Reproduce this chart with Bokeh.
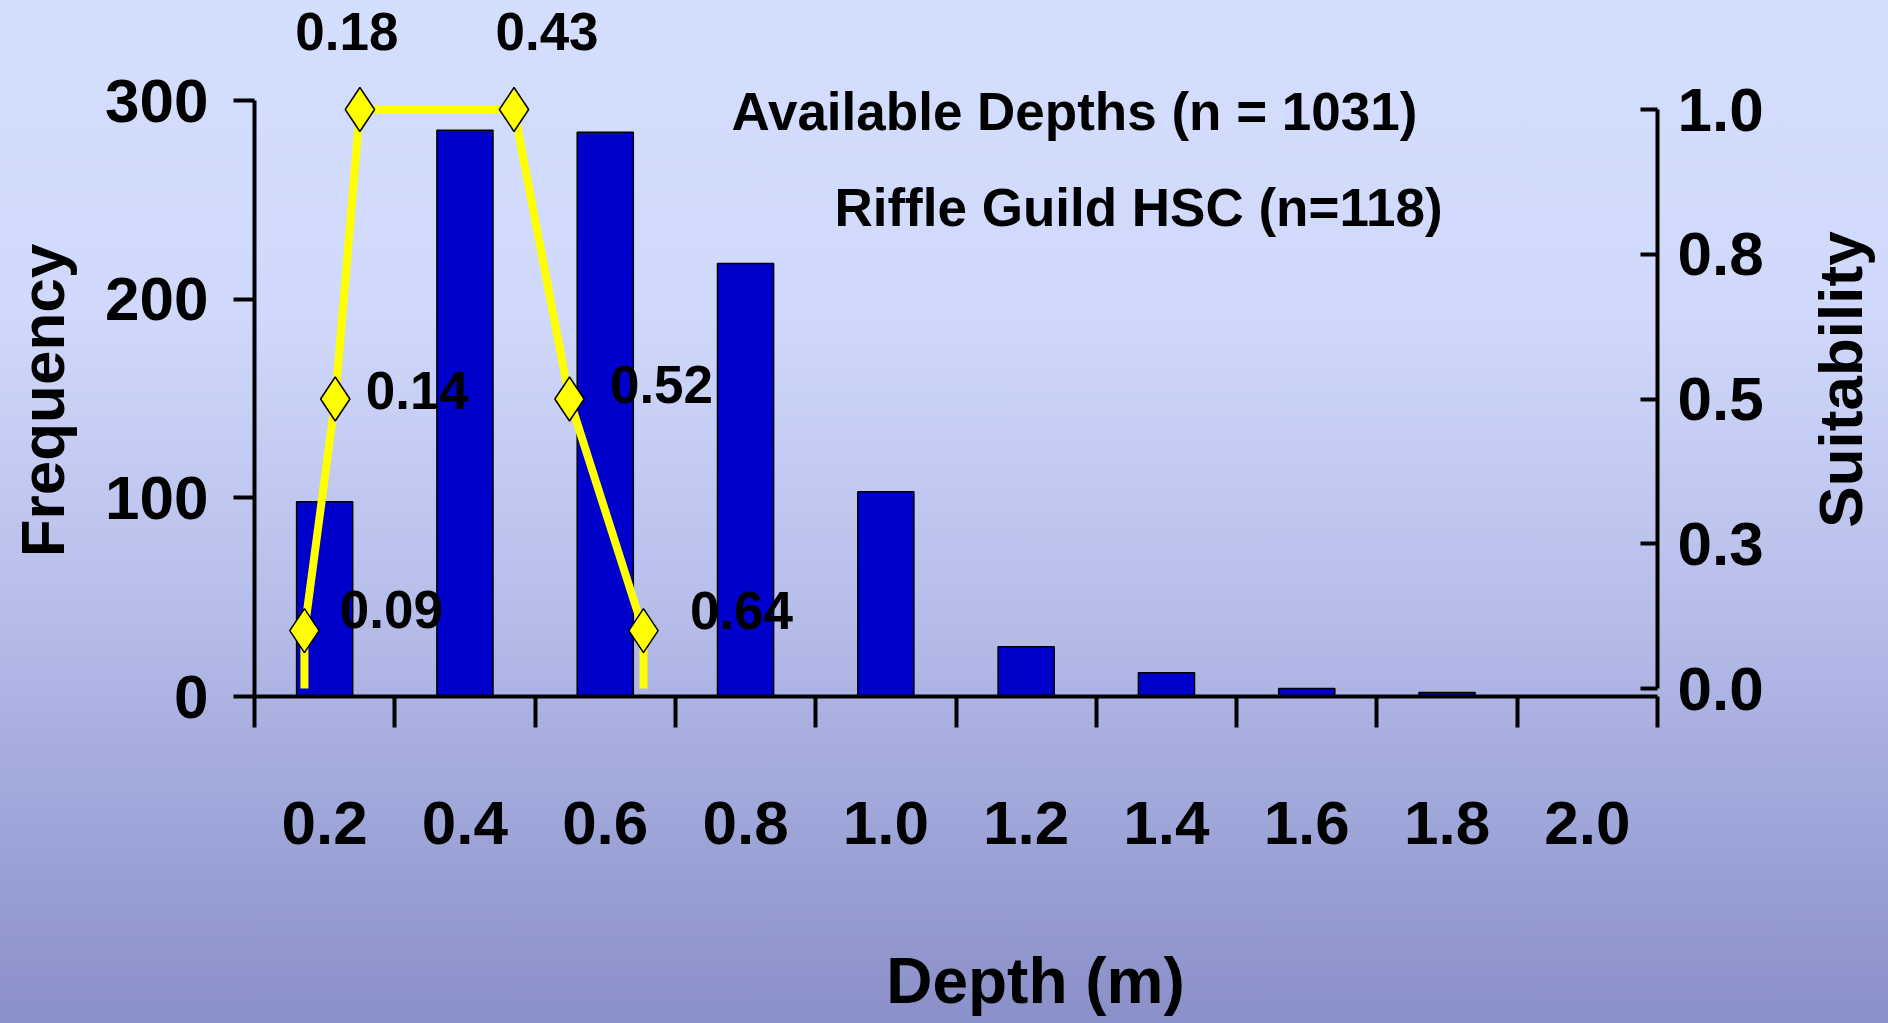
import math

from bokeh.plotting import figure
from bokeh.models import Range1d, LinearAxis, FixedTicker, Label
from bokeh.core.properties import value
from bokeh.embed import file_html
from bokeh.resources import INLINE

# Available depths: frequency per 0.2 m depth class
depth_classes = ["0.2", "0.4", "0.6", "0.8", "1.0", "1.2", "1.4", "1.6", "1.8", "2.0"]
frequency = [98, 285, 284, 218, 103, 25, 12, 4, 2, 0]

# Riffle guild habitat suitability curve (depth in m, suitability 0-1)
hsc_depth = [0.09, 0.09, 0.14, 0.18, 0.43, 0.52, 0.64, 0.64]
hsc_suit = [0.0, 0.1, 0.5, 1.0, 1.0, 0.5, 0.1, 0.0]

freq_ticks = [0, 100, 200, 300]
suit_ticks = [0.0, 0.25, 0.5, 0.75, 1.0]
suit_tick_labels = ["0.0", "0.3", "0.5", "0.8", "1.0"]

bar_title = "Available Depths (n = 1031)"
curve_title = "Riffle Guild HSC (n=118)"

FONT = "Liberation Sans"
W, H = 1888, 1023
LEFT, RIGHT, BOTTOM = 254, 1657, 696
PX_PER_FREQ = 596 / 300          # frequency axis scale
SUIT_ZERO, SUIT_ONE = 688, 109   # suitability axis end points

p = figure(width=W, height=H, output_backend="svg", toolbar_location=None,
           x_range=Range1d(0, len(depth_classes)),
           y_range=Range1d(0, BOTTOM / PX_PER_FREQ),
           min_border_left=LEFT, min_border_right=W - RIGHT,
           min_border_top=0, min_border_bottom=H - BOTTOM)
p.styles = {"background": "linear-gradient(180deg, #d4defd 0%, #d0d9fb 30%, "
                          "#b6bdea 60%, #9fa6d9 80%, #8a90c8 100%)"}
p.background_fill_alpha = 0
p.border_fill_alpha = 0
p.outline_line_color = None
p.xgrid.visible = False
p.ygrid.visible = False

# secondary ranges: depth (m) / suitability for the HSC curve, pixel space for captions
suit_px = SUIT_ZERO - SUIT_ONE
p.extra_x_ranges = {"depth": Range1d(0.009, 2.285), "px": Range1d(LEFT, RIGHT)}
p.extra_y_ranges = {"suit": Range1d(-(BOTTOM - SUIT_ZERO) / suit_px, 1 + SUIT_ONE / suit_px),
                    "px": Range1d(BOTTOM, 0)}

# x axis: class labels centred, tick marks on class boundaries
centers = [i + 0.5 for i in range(len(depth_classes))]
xa = p.xaxis[0]
xa.ticker = FixedTicker(ticks=centers, minor_ticks=list(range(len(depth_classes) + 1)))
xa.major_label_overrides = {c: lab for c, lab in zip(centers, depth_classes)}
xa.major_tick_out = 31
xa.major_tick_in = 0
xa.major_tick_line_color = None
xa.minor_tick_out = 31
xa.minor_tick_in = 0
xa.minor_tick_line_width = 4
xa.minor_tick_line_color = "black"
xa.axis_line_width = 4
xa.major_label_standoff = 74

ya = p.yaxis[0]
ya.ticker = FixedTicker(ticks=freq_ticks, minor_ticks=[])
ya.bounds = (0, 300)
ya.major_tick_out = 21
ya.major_tick_in = 0
ya.major_tick_line_width = 4
ya.major_tick_line_color = "black"
ya.axis_line_width = 4
ya.major_label_standoff = 25

ra = LinearAxis(y_range_name="suit")
ra.ticker = FixedTicker(ticks=suit_ticks, minor_ticks=[])
ra.major_label_overrides = {t: lab for t, lab in zip(suit_ticks, suit_tick_labels)}
ra.bounds = (0, 1)
ra.major_tick_out = 0
ra.major_tick_in = 17
ra.major_tick_line_width = 4
ra.major_tick_line_color = "black"
ra.axis_line_width = 4
ra.major_label_standoff = 20
p.add_layout(ra, "right")

for ax in (xa, ya, ra):
    ax.major_label_text_font = FONT
    ax.major_label_text_font_style = "bold"
    ax.major_label_text_font_size = "62px"
    ax.major_label_text_color = "black"
    ax.axis_line_color = "black"

# frequency bars
p.vbar(x=centers, top=frequency, width=0.4, bottom=0,
       fill_color="#0000CC", line_color="black", line_width=1.5)

# suitability curve
p.line(hsc_depth, hsc_suit, line_color="#FFFF00", line_width=8,
       x_range_name="depth", y_range_name="suit")

pts = [(d, s) for d, s in zip(hsc_depth, hsc_suit) if s > 0]
pt_depth = [d for d, _ in pts]
pt_suit = [s for _, s in pts]
p.scatter(pt_depth, pt_suit, marker="diamond", size=44,
          fill_color="#FFFF00", line_color="black", line_width=1.5,
          x_range_name="depth", y_range_name="suit")

# depth value labels beside each curve point
label_dx = [87, 82, -13, 33, 92, 98]
label_dy = [-21, -9, -78, -78, -15, -20]
p.text(x=pt_depth, y=pt_suit, text=[f"{d:.2f}" for d in pt_depth],
       x_offset=label_dx, y_offset=label_dy,
       text_font=value(FONT), text_font_style="bold", text_font_size="53px",
       text_align="center", text_baseline="middle", text_color="black",
       x_range_name="depth", y_range_name="suit")


def caption(text, x, y, size, angle=0.0, place="center"):
    p.add_layout(Label(x=x, y=y, text=text, angle=angle,
                       x_range_name="px", y_range_name="px",
                       text_font=FONT, text_font_style="bold",
                       text_font_size=size, text_color="black",
                       text_align="center", text_baseline="middle"), place)


caption(bar_title, 1074, 111, "53px")
caption(curve_title, 1138, 207, "53px")
# axis titles sit in the side panels so they are not clipped to the frame
caption("Frequency", 42, 400, "62px", angle=math.pi / 2, place="left")
caption("Suitability", 1840, 379, "62px", angle=math.pi / 2, place="right")
caption("Depth (m)", 1035, 980, "64px", place="below")

open("out.html", "w").write(file_html(p, INLINE, title="Depth frequency and riffle guild HSC"))
